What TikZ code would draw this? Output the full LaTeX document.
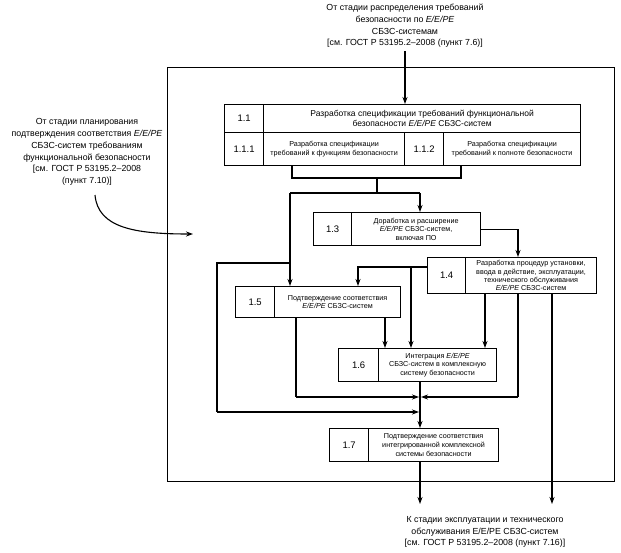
\documentclass[tikz,border=0pt]{standalone}
\usepackage{fontspec}
\setmainfont{Liberation Sans}
\usetikzlibrary{arrows.meta}
\begin{document}
\begin{tikzpicture}[x=1pt,y=-1pt,
  cell/.style={draw, line width=1.2pt, anchor=north west, inner sep=1pt, align=center, font=\fontsize{7.2}{8.6}\selectfont},
  numcell/.style={cell, font=\fontsize{9.5}{11}\selectfont},
  ln/.style={line width=1.1pt},
  arr/.style={line width=1.1pt, -{Stealth[length=7pt,width=5pt]}},
  outtxt/.style={align=center, font=\fontsize{8.8}{11.7}\selectfont}]
\useasboundingbox (0,0) rectangle (621,552);
% frame
\node[draw, line width=1.4pt, minimum width=447pt, minimum height=414pt, anchor=north west, inner sep=0pt] (frame) at (167,67) {};
% texts
\node[outtxt] (toptext) at (405,26) {От стадии распределения требований\\безопасности по \textit{E/E/PE}\\СБЗС-системам\\{}[см. ГОСТ Р 53195.2–2008 (пункт 7.6)]};
\node[outtxt] (lefttext) at (87,152) {От стадии планирования\\подтверждения соответствия \textit{E/E/PE}\\СБЗС-систем требованиям\\функциональной безопасности\\{}[см. ГОСТ Р 53195.2–2008\\(пункт 7.10)]};
\node[outtxt] (bottext) at (485,532) {К стадии эксплуатации и технического\\обслуживания E/E/PE СБЗС-систем\\{}[см. ГОСТ Р 53195.2–2008 (пункт 7.16)]};
% box 1.1
\node[numcell, minimum width=39pt, minimum height=28pt] (n11) at (224,104) {1.1};
\node[cell, minimum width=317pt, minimum height=28pt, font=\fontsize{8.5}{10.5}\selectfont] (t11) at (263,104) {Разработка спецификации требований функциональной\\безопасности \textit{E/E/PE} СБЗС-систем};
\node[numcell, minimum width=39pt, minimum height=33pt] (n111) at (224,132) {1.1.1};
\node[cell, minimum width=141pt, minimum height=33pt] (t111) at (263,132) {Разработка спецификации\\требований к функциям безопасности};
\node[numcell, minimum width=39pt, minimum height=33pt] (n112) at (404,132) {1.1.2};
\node[cell, minimum width=137pt, minimum height=33pt] (t112) at (443,132) {Разработка спецификации\\требований к полноте безопасности};
% box 1.3
\node[numcell, minimum width=38pt, minimum height=33pt] (n13) at (313,212) {1.3};
\node[cell, minimum width=129pt, minimum height=33pt] (t13) at (351,212) {Доработка и расширение\\\textit{E/E/PE} СБЗС-систем,\\включая ПО};
% box 1.4
\node[numcell, minimum width=38pt, minimum height=36pt] (n14) at (427,257) {1.4};
\node[cell, minimum width=131pt, minimum height=36pt, font=\fontsize{7.2}{8.3}\selectfont] (t14) at (465,257) {Разработка процедур установки,\\ввода в действие, эксплуатации,\\технического обслуживания\\\textit{E/E/PE} СБЗС-систем};
% box 1.5
\node[numcell, minimum width=39pt, minimum height=31pt] (n15) at (235,286) {1.5};
\node[cell, minimum width=126pt, minimum height=31pt] (t15) at (274,286) {Подтверждение соответствия\\\textit{E/E/PE} СБЗС-систем};
% box 1.6
\node[numcell, minimum width=40pt, minimum height=33pt] (n16) at (338,348) {1.6};
\node[cell, minimum width=118pt, minimum height=33pt] (t16) at (378,348) {Интеграция \textit{E/E/PE}\\СБЗС-систем в комплексную\\систему безопасности};
% box 1.7
\node[numcell, minimum width=39pt, minimum height=33pt] (n17) at (329,428) {1.7};
\node[cell, minimum width=130pt, minimum height=33pt] (t17) at (368,428) {Подтверждение соответствия\\интегрированной комплексной\\системы безопасности};
% helper coordinates
\coordinate (xa) at (292,0);
\coordinate (xb) at (461,0);
\coordinate (xc) at (377,0);
\coordinate (xd) at (290,0);
\coordinate (xe) at (420,0);
\coordinate (xf) at (217,0);
\coordinate (xg) at (518,0);
\coordinate (xh) at (358,0);
\coordinate (xi) at (411,0);
\coordinate (xj) at (385,0);
\coordinate (xk) at (296,0);
\coordinate (xl) at (485,0);
\coordinate (xm) at (552,0);
\coordinate (y1) at (0,178);
\coordinate (y2) at (0,193);
\coordinate (y3) at (0,263);
\coordinate (y4) at (0,267);
\coordinate (y5) at (0,397);
\coordinate (y6) at (0,412);
\coordinate (y7) at (0,504);
\coordinate (cs) at (95,195);
\coordinate (ce) at (193,234);
% connectors
\draw[arr] (toptext.south) -- (toptext.south |- t11.north);
\draw[ln] (xa |- t111.south) -- (xa |- y1) -- (xb |- y1) -- (xb |- t112.south);
\draw[ln] (xc |- y1) -- (xc |- y2);
\draw[ln] (xd |- y2) -- (xe |- y2);
\draw[arr] (xe |- y2) -- (xe |- t13.north);
\draw[arr] (xd |- y2) -- (xd |- t15.north);
\draw[ln] (xd |- y3) -- (xf |- y3) -- (xf |- y6);
\draw[arr] (xf |- y6) -- ([xshift=-1pt]xe |- y6);
\draw[arr] (t13.east) -| (xg |- t14.north);
\draw[arr] (n14.west |- y4) -| (xh |- t15.north);
\draw[arr] (xi |- y4) -- (xi |- t16.north);
\draw[arr] (xj |- t15.south) -- (xj |- t16.north);
\draw[arr] (xl |- t14.south) -- (xl |- t16.north);
\draw[ln] (xk |- t15.south) -- (xk |- y5);
\draw[arr] (xk |- y5) -- ([xshift=-1pt]xe |- y5);
\draw[ln] (xg |- t14.south) -- (xg |- y5);
\draw[arr] (xg |- y5) -- ([xshift=1pt]xe |- y5);
\draw[arr] (xm |- t14.south) -- (xm |- y7);
\draw[arr] (xe |- t16.south) -- (xe |- t17.north);
\draw[arr] (xe |- t17.south) -- (xe |- y7);
\draw[arr] (cs) .. controls (98,228) and (135,234) .. (ce);
\end{tikzpicture}
\end{document}
